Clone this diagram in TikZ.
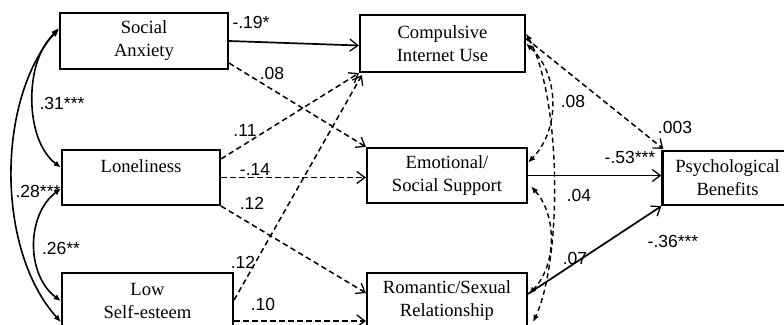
\documentclass[tikz,border=0pt]{standalone}
\usepackage{fontspec}
\setmainfont{Liberation Serif}
\newfontfamily\labfont{Liberation Sans}
\usetikzlibrary{arrows.meta,calc}
\begin{document}
\begin{tikzpicture}[x=1pt,y=-1pt,
  box/.style={draw, line width=2.2pt, align=center, inner sep=0pt,
    font=\fontsize{18.6}{23}\selectfont},
  lab/.style={inner sep=0pt, font=\labfont\fontsize{17.5}{20}\selectfont},
  arr/.style={line width=1.7pt, -{Straight Barb[length=8pt,width=12pt,line width=1.3pt]}},
  darr/.style={arr, line width=1.5pt, dash pattern=on 5.5pt off 3.5pt},
  corr/.style={line width=1.6pt, {Latex[length=7pt,width=6pt]}-{Latex[length=7pt,width=6pt]}},
  dcorr/.style={corr, line width=1.4pt, dash pattern=on 5pt off 3.5pt}]
\path[use as bounding box] (0,0) rectangle (784,324);
\clip (0,0) rectangle (784,324);
% boxes
\node[box, minimum width=168pt, minimum height=56pt] (sa) at (144,41) {Social\\Anxiety};
\node[box, minimum width=158pt, minimum height=55pt] (lon) at (141,177.5) {Loneliness\\\mbox{}};
\node[box, minimum width=171pt, minimum height=56pt] (lse) at (147.5,301) {Low\\Self-esteem};
\node[box, minimum width=165pt, minimum height=57pt] (ciu) at (442.5,43.5) {Compulsive\\Internet Use};
\node[box, minimum width=160pt, minimum height=55pt] (ess) at (447,175.5) {Emotional/\\Social Support};
\node[box, minimum width=160pt, minimum height=56pt] (rsr) at (447,301) {Romantic/Sexual\\Relationship};
\node[box, minimum width=130pt, minimum height=54pt] (pb) at (727.5,178) {Psychological\\Benefits};
% paths
\draw[arr] (sa.east) -- ($(ciu.west)+(0,2)$);
\draw[darr] ($(sa.south east)+(0,-7)$) -- (ess.north west);
\draw[darr] ($(lon.north east)+(0,10)$) -- (ciu.south west);
\draw[darr] (lon.east) -- (lon.east -| ess.west);
\draw[darr] (lon.south east) -- ($(rsr.west)+(0,-8)$);
\draw[darr] ($(lse.east)+(0,-1)$) -- ($(ciu.south west)+(3,2)$);
\draw[darr] ($(lse.east)+(0,20)$) -- ($(rsr.west)+(0,20)$);
\draw[arr] (ess.east) -- (ess.east -| pb.west);
\draw[arr] ($(rsr.north east)+(0,22)$) -- (pb.south west);
\draw[darr] ($(ciu.east)+(0,-5)$) -- ($(pb.north west)+(2,-1)$);
% correlations left
\draw[corr] ($(sa.west)+(0,-11)$) .. controls (24,60) and (24,140) .. ($(lon.west)+(0,-10)$);
\draw[corr] ($(sa.west)+(0,-13)$) .. controls (-4,100) and (-4,250) .. ($(lse.west)+(0,21)$);
\draw[corr] ($(lon.west)+(0,11)$) .. controls (26,215) and (26,275) .. (lse.west);
% correlations right
\draw[dcorr] (ciu.east) .. controls (560,75) and (560,130) .. ($(ess.east)+(0,-13)$);
\draw[dcorr] ($(ciu.east)+(0,-10)$) .. controls (562,100) and (562,260) .. ($(rsr.east)+(5,21)$);
\draw[dcorr] ($(ess.east)+(3,11)$) .. controls (557,215) and (557,265) .. ($(rsr.north east)+(1,22)$);
% labels
\node[lab] (l1) at (251,22) {-.19*};
\node[lab] (l2) at (272,73) {.08};
\node[lab] (l3) at (62,103) {.31***};
\node[lab] (l4) at (245,130) {.11};
\node[lab] (l5) at (255,169) {-.14};
\node[lab] (l6) at (252,203) {.12};
\node[lab] (l7) at (38,191) {.28***};
\node[lab] (l8) at (61,248) {.26**};
\node[lab] (l9) at (243,262) {.12};
\node[lab] (l10) at (263,304) {.10};
\node[lab] (l11) at (573,101) {.08};
\node[lab] (l12) at (675,127) {.003};
\node[lab] (l13) at (630,157) {-.53***};
\node[lab] (l14) at (579,195) {.04};
\node[lab] (l15) at (673,241) {-.36***};
\node[lab] (l16) at (575,258) {.07};
\end{tikzpicture}
\end{document}
